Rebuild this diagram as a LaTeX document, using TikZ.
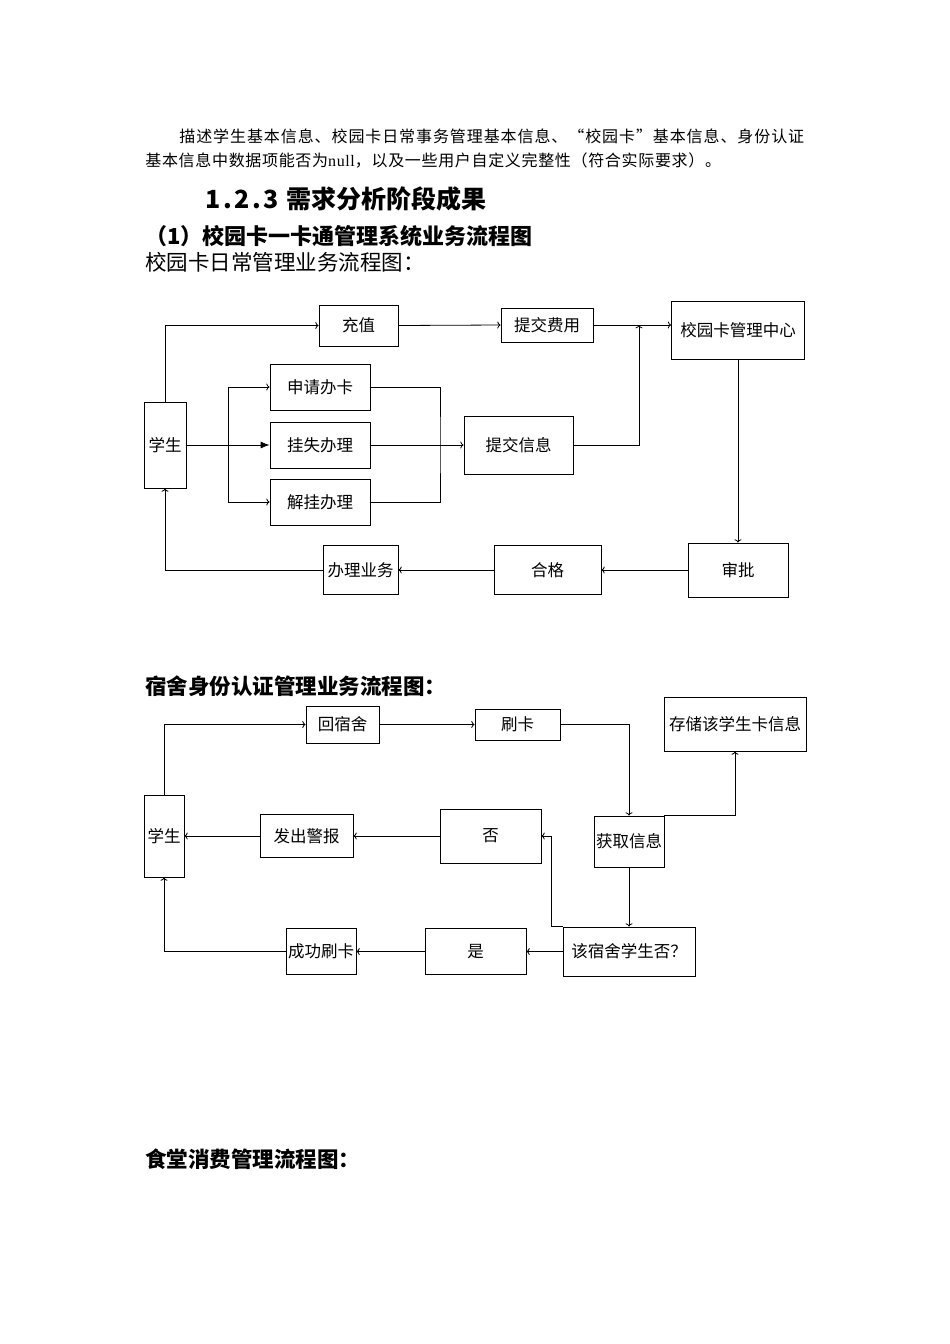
\documentclass[tikz,border=0pt]{standalone}
\usepackage{fontspec}
\setmainfont{Liberation Serif}
\newfontfamily\cjk{Noto Sans CJK SC}
\newfontfamily\cjkwide[LetterSpace=5.7]{Noto Sans CJK SC}
\newfontfamily\cjkmid[LetterSpace=4.2]{Noto Sans CJK SC}
\newfontfamily\latinmid[LetterSpace=4]{Liberation Serif}
\newfontfamily\numfont[LetterSpace=10]{Noto Sans CJK SC}
\usepackage{tikz}
\usetikzlibrary{arrows.meta}

\begin{document}
\begin{tikzpicture}[x=1pt, y=-1pt, line width=0.8pt,
    box/.style={draw, inner sep=0pt, font=\fontsize{16.5}{18}\cjk},
    txt/.style={anchor=west, inner sep=0pt},
    bigtip/.style={-{Latex[length=9pt,width=7pt]}}]
        \useasboundingbox (0,0) rectangle (950,1344);
        \fill[white] (0,0) rectangle (950,1344);

        \node[txt] (p1) at (179,136) {\fontsize{16}{18}\cjkwide 描述学生基本信息、校园卡日常事务管理基本信息、“校园卡”基本信息、身份认证};
        \node[txt] (p2) at (145,161) {\fontsize{16}{18}\selectfont{\cjkmid 基本信息中数据项能否为}{\latinmid null}{\cjkmid ，以及一些用户自定义完整性（符合实际要求）。}};
        \node[txt] (sec) at (205,199) {\fontsize{25}{28}\selectfont{\numfont\bfseries 1.2.3 }{\cjk\bfseries 需求分析阶段成果}};
        \node[txt] (sub) at (145,236) {\fontsize{22}{24}\cjk\bfseries （1）校园卡一卡通管理系统业务流程图};
        \node[txt] (t1) at (145,262) {\fontsize{21.5}{24}\cjk 校园卡日常管理业务流程图：};
        \node[txt] (t2) at (145,686) {\fontsize{21.5}{24}\cjk\bfseries 宿舍身份认证管理业务流程图：};
        \node[txt] (t3) at (145,1159) {\fontsize{21.5}{24}\cjk\bfseries 食堂消费管理流程图：};

        \node[box, minimum width=42, minimum height=86] (xs1) at (165,445) {学生};
        \node[box, minimum width=79, minimum height=41] (cz) at (358.5,325.5) {充值};
        \node[box, minimum width=92, minimum height=34] (tjfy) at (547,325) {提交费用};
        \node[box, minimum width=133, minimum height=58] (zx) at (738,330) {校园卡管理中心};
        \node[box, minimum width=100, minimum height=46] (sq) at (320,387) {申请办卡};
        \node[box, minimum width=100, minimum height=46] (gs) at (320,445) {挂失办理};
        \node[box, minimum width=100, minimum height=46] (jg) at (320,502) {解挂办理};
        \node[box, minimum width=109, minimum height=58] (tjxx) at (518.5,445) {提交信息};
        \node[box, minimum width=100, minimum height=54] (sp) at (738,570) {审批};
        \node[box, minimum width=107, minimum height=49] (hg) at (547.5,570) {合格};
        \node[box, minimum width=75, minimum height=49] (bl) at (360.5,570) {办理业务};
        \coordinate (m1) at (639,325);
        \coordinate (b1) at (228,445);
        \coordinate (b2) at (440,445);

        \draw[->] (xs1.north) |- (cz.west);
        \draw[->] (cz.east) -- (tjfy.west);
        \draw[->] (tjfy.east) -- (tjfy.east -| zx.west);
        \draw[->] (tjxx.east) -| (m1);
        \draw (xs1.east) -- (b1);
        \draw[->] (b1) |- (sq.west);
        \draw[->] (b1) |- (jg.west);
        \draw[bigtip] (b1) -- (gs.west);
        \draw (sq.east) -| (b2) |- (jg.east);
        \draw[->] (gs.east) -- (tjxx.west);
        \draw[->] (zx.south) -- (sp.north);
        \draw[->] (sp.west) -- (hg.east);
        \draw[->] (hg.west) -- (bl.east);
        \draw[->] (bl.west) -| (xs1.south);

        \node[box, minimum width=40, minimum height=82] (xs2) at (164,836) {学生};
        \node[box, minimum width=73, minimum height=37] (hss) at (342.5,724.5) {回宿舍};
        \node[box, minimum width=85, minimum height=31] (sk) at (517.5,724.5) {刷卡};
        \node[box, minimum width=142, minimum height=54] (cc) at (735,724) {存储该学生卡信息};
        \node[box, minimum width=70, minimum height=51] (hq) at (629,841.5) {获取信息};
        \node[box, minimum width=101, minimum height=54] (fou) at (490.5,836) {否};
        \node[box, minimum width=93, minimum height=43] (jb) at (306.5,836) {发出警报};
        \node[box, minimum width=132, minimum height=49] (pd) at (629,951.5) {该宿舍学生否？};
        \node[box, minimum width=101, minimum height=46] (shi) at (475.5,951.5) {是};
        \node[box, minimum width=70, minimum height=46] (cg) at (321,951.5) {成功刷卡};

        \draw[->] (xs2.north) |- (hss.west);
        \draw[->] (hss.east) -- (sk.west);
        \draw[->] (sk.east) -| (hq.north);
        \draw[->] (hq.north east) -| (cc.south);
        \draw[->] (hq.south) -- (pd.north);
        \draw[->] (pd.north west) -- ++(-11,0) |- (fou.east);
        \draw[->] (fou.west) -- (jb.east);
        \draw[->] (jb.west) -- (xs2.east);
        \draw[->] (pd.west) -- (shi.east);
        \draw[->] (shi.west) -- (cg.east);
        \draw[->] (cg.west) -| (xs2.south);
      \end{tikzpicture}
\end{document}
